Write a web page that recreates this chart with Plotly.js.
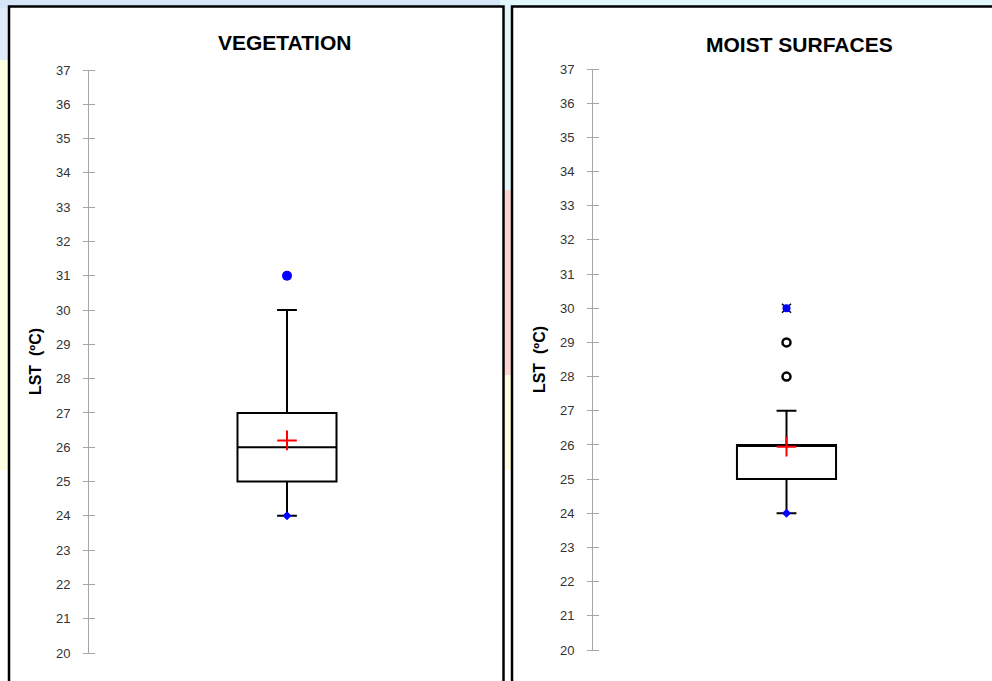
<!DOCTYPE html>
<html>
<head>
<meta charset="utf-8">
<script src="https://cdn.plot.ly/plotly-3.0.1.min.js"></script>
<style>
  html, body { margin: 0; padding: 0; background: #ffffff; }
  #chart { width: 992px; height: 681px; }
</style>
</head>
<body>
<div id="chart"></div>
<script>
// ---- Data ----
const panelTitles = ['VEGETATION', 'MOIST SURFACES'];
const yTitle = 'LST\u00a0 (ºC)';
const q1Vals = [25, 25];
const medianVals = [26, 26];
const q3Vals = [27, 26];
const lowerWhisker = [24, 24];
const upperWhisker = [30, 27];
const meanVals = [26.2, 25.95];
const minVals = [24, 24];
const maxVals = [31, 30];
const outliersMoist = [28, 29];
const yMin = 20, yMax = 37;

// ---- helpers for pixel-based layout ----
const W = 992, H = 681;
const px = v => v / W;
const py = v => 1 - v / H;

const axisGray = '#a6a6a6';
const tickFont = { family: 'Liberation Sans, Arial, sans-serif', size: 13, color: '#333333' };

function boxTrace(i, xa, ya) {
  return {
    type: 'box', xaxis: xa, yaxis: ya,
    x: [0], q1: [q1Vals[i]], median: [medianVals[i]], q3: [q3Vals[i]],
    lowerfence: [lowerWhisker[i]], upperfence: [upperWhisker[i]],
    width: i === 0 ? 0.5 : 0.512, whiskerwidth: 0.2,
    boxpoints: false, boxmean: false,
    fillcolor: 'rgba(255,255,255,0)',
    line: { color: '#000000', width: 2 },
    hoverinfo: 'skip', showlegend: false
  };
}
function markerTrace(xa, ya, yv, marker) {
  return {
    type: 'scatter', mode: 'markers', xaxis: xa, yaxis: ya,
    x: yv.map(() => 0), y: yv, marker: marker,
    hoverinfo: 'skip', showlegend: false, cliponaxis: false
  };
}

const traces = [
  boxTrace(0, 'x', 'y'),
  markerTrace('x', 'y', [maxVals[0]], { symbol: 'circle', size: 10, color: '#0000ff' }),
  markerTrace('x', 'y', [minVals[0]], { symbol: 'diamond', size: 7, color: '#0000ff' }),
  markerTrace('x', 'y', [meanVals[0]], { symbol: 'cross-thin', size: 14, color: '#ff0000', line: { color: '#ff0000', width: 2 } }),

  boxTrace(1, 'x2', 'y2'),
  markerTrace('x2', 'y2', outliersMoist, { symbol: 'circle-open', size: 8, color: '#000000', line: { color: '#000000', width: 2.5 } }),
  markerTrace('x2', 'y2', [maxVals[1]], { symbol: 'x-thin', size: 9, color: '#000000', line: { color: '#000000', width: 1.5 } }),
  markerTrace('x2', 'y2', [maxVals[1]], { symbol: 'circle', size: 8, color: '#0000ff' }),
  markerTrace('x2', 'y2', [minVals[1]], { symbol: 'diamond', size: 7, color: '#0000ff' }),
  markerTrace('x2', 'y2', [meanVals[1]], { symbol: 'cross-thin', size: 14, color: '#ff0000', line: { color: '#ff0000', width: 2 } }),

  // transparent traces that keep the axis-line overlay axes in use
  { type: 'scatter', mode: 'markers', xaxis: 'x', yaxis: 'y3', x: [0], y: [minVals[0]], marker: { opacity: 0 }, showlegend: false, hoverinfo: 'skip' },
  { type: 'scatter', mode: 'markers', xaxis: 'x2', yaxis: 'y4', x: [0], y: [minVals[1]], marker: { opacity: 0 }, showlegend: false, hoverinfo: 'skip' }
];

// main axis: sits 6px right of the visible axis line; 12px outside ticks cross the line
function yAxisMain(domain, pos) {
  return {
    domain: domain, anchor: 'free', position: pos, side: 'left',
    range: [yMin, yMax], autorange: false,
    tick0: yMin, dtick: 1, showgrid: false, zeroline: false, showline: false,
    ticks: 'outside', ticklen: 12, tickwidth: 1, tickcolor: axisGray,
    ticklabelstandoff: 10,
    tickfont: tickFont,
    title: { text: yTitle, standoff: 9, font: { family: 'Liberation Sans, Arial, sans-serif', size: 16, color: '#000000', weight: 'bold' } },
    fixedrange: true
  };
}
// overlay axis: only the vertical axis line
function yAxisLine(over, anchor) {
  return {
    overlaying: over, anchor: anchor, side: 'left', range: [yMin, yMax], autorange: false,
    showgrid: false, zeroline: false, showline: true, linecolor: axisGray, linewidth: 1,
    ticks: '', showticklabels: false, fixedrange: true
  };
}

const titleFont = { family: 'Liberation Sans, Arial, sans-serif', size: 21, color: '#000000', weight: 'bold' };

const layout = {
  width: W, height: H,
  margin: { l: 0, r: 0, t: 0, b: 0 },
  paper_bgcolor: '#ffffff',
  plot_bgcolor: 'rgba(0,0,0,0)',
  showlegend: false,
  xaxis: { domain: [px(89), px(485)], range: [-1, 1], visible: false, anchor: 'y', fixedrange: true },
  xaxis2: { domain: [px(593), px(980)], range: [-1, 1], visible: false, anchor: 'y2', fixedrange: true },
  yaxis: yAxisMain([py(653), py(70)], px(95)),
  yaxis2: yAxisMain([py(650), py(69)], px(599)),
  yaxis3: yAxisLine('y', 'x'),
  yaxis4: yAxisLine('y2', 'x2'),
  annotations: [
    { xref: 'paper', yref: 'paper', x: px(284), y: py(42), xanchor: 'center', yanchor: 'middle', showarrow: false, text: panelTitles[0], font: titleFont },
    { xref: 'paper', yref: 'paper', x: px(799), y: py(44), xanchor: 'center', yanchor: 'middle', showarrow: false, text: panelTitles[1], font: titleFont }
  ],
  shapes: [
    // decorative background strips
    { type: 'rect', xref: 'paper', yref: 'paper', x0: 0, x1: px(500), y0: py(8), y1: 1, line: { width: 0 }, fillcolor: '#d6e6f8', layer: 'below' },
    { type: 'rect', xref: 'paper', yref: 'paper', x0: px(500), x1: 1, y0: py(8), y1: 1, line: { width: 0 }, fillcolor: '#e2f7fb', layer: 'below' },
    { type: 'rect', xref: 'paper', yref: 'paper', x0: 0, x1: px(9), y0: py(60), y1: py(8), line: { width: 0 }, fillcolor: '#dfeafa', layer: 'below' },
    { type: 'rect', xref: 'paper', yref: 'paper', x0: 0, x1: px(9), y0: py(470), y1: py(60), line: { width: 0 }, fillcolor: '#fffde2', layer: 'below' },
    { type: 'rect', xref: 'paper', yref: 'paper', x0: px(503), x1: px(512), y0: py(190), y1: py(8), line: { width: 0 }, fillcolor: '#e3f6fb', layer: 'below' },
    { type: 'rect', xref: 'paper', yref: 'paper', x0: px(503), x1: px(512), y0: py(375), y1: py(190), line: { width: 0 }, fillcolor: '#fdd4d0', layer: 'below' },
    { type: 'rect', xref: 'paper', yref: 'paper', x0: px(503), x1: px(512), y0: py(470), y1: py(375), line: { width: 0 }, fillcolor: '#fffbda', layer: 'below' },
    // panel frames
    { type: 'rect', xref: 'paper', yref: 'paper', x0: px(9), x1: px(503.5), y0: -0.05, y1: py(6.5), line: { color: '#000000', width: 2.5 }, fillcolor: '#ffffff', layer: 'below' },
    { type: 'rect', xref: 'paper', yref: 'paper', x0: px(512), x1: 1.05, y0: -0.05, y1: py(6.5), line: { color: '#000000', width: 2.5 }, fillcolor: '#ffffff', layer: 'below' }
  ]
};

Plotly.newPlot('chart', traces, layout, { displayModeBar: false, staticPlot: true });
</script>
</body>
</html>
